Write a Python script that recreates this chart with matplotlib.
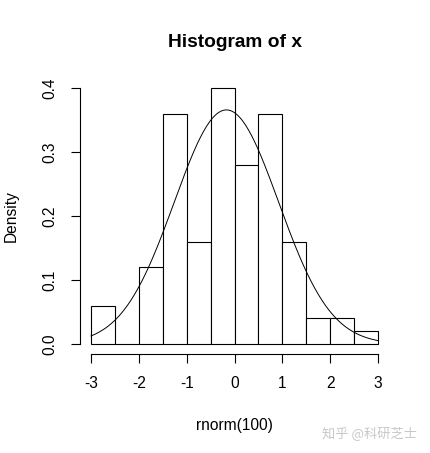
import numpy as np
import matplotlib
matplotlib.use("Agg")
import matplotlib.pyplot as plt

plt.rcParams["font.family"] = ["Liberation Sans", "DejaVu Sans"]

# histogram data (density per bin, width 0.5)
bin_edges = [-3.0, -2.5, -2.0, -1.5, -1.0, -0.5, 0.0, 0.5, 1.0, 1.5, 2.0, 2.5, 3.0]
density = [0.06, 0.00, 0.12, 0.36, 0.16, 0.40, 0.28, 0.36, 0.16, 0.04, 0.04, 0.02]

# fitted normal curve
curve_mean = -0.17
curve_sd = 1.09

x_ticks = [-3, -2, -1, 0, 1, 2, 3]
y_ticks = [0.0, 0.1, 0.2, 0.3, 0.4]

fig = plt.figure(figsize=(4.3, 4.53), dpi=100)
ax = fig.add_axes([0.185, 0.218, 0.721, 0.610])

left = bin_edges[:-1]
widths = np.diff(bin_edges)
ax.bar(left, density, width=widths, align="edge",
       facecolor="white", edgecolor="black", linewidth=0.8)

xs = np.linspace(-3, 3, 300)
ys = np.exp(-0.5 * ((xs - curve_mean) / curve_sd) ** 2) / (curve_sd * np.sqrt(2 * np.pi))
ax.plot(xs, ys, color="black", linewidth=0.7)

ax.set_xlim(-3.24, 3.24)
ax.set_ylim(-0.016, 0.416)

for s in ["top", "right"]:
    ax.spines[s].set_visible(False)
ax.spines["bottom"].set_bounds(-3, 3)
ax.spines["left"].set_bounds(0, 0.4)
ax.spines["bottom"].set_linewidth(0.8)
ax.spines["left"].set_linewidth(0.8)

ax.set_xticks(x_ticks)
ax.set_xticklabels([str(t) for t in x_ticks])
ax.set_yticks(y_ticks)
ax.set_yticklabels([f"{t:.1f}" for t in y_ticks], rotation=90, va="center")
ax.tick_params(axis="both", direction="out", length=6.5, width=0.8,
               labelsize=11.2, pad=9.5)

ax.set_xlabel("rnorm(100)", fontsize=11.2, labelpad=19)
ax.set_ylabel("Density", fontsize=11.2, labelpad=17)
ax.set_title("Histogram of x", fontsize=13.8, fontweight="bold", pad=22)

fig.text(0.97, 0.045, "知乎 @科研芝士", ha="right", va="center",
         fontsize=9.5, color="#c8c8c8",
         family=["Noto Sans CJK SC", "DejaVu Sans"])

fig.savefig("out.png", dpi=100, facecolor="white")
